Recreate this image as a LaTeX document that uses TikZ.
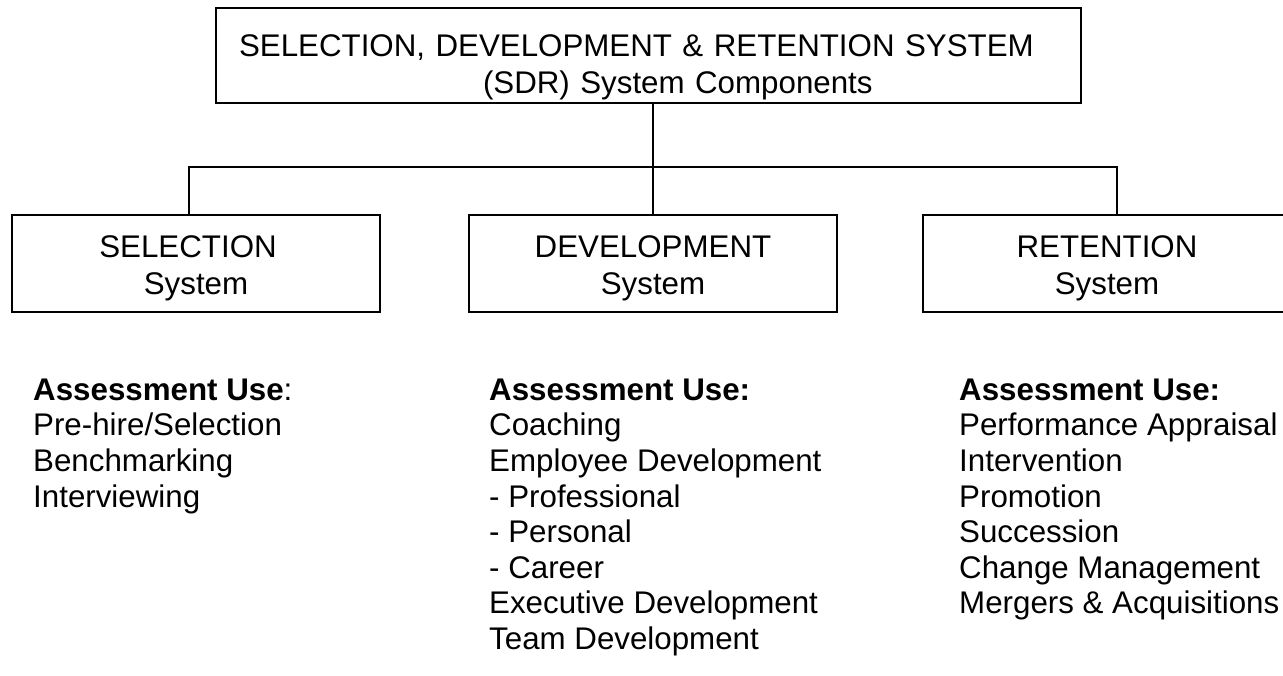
\documentclass[tikz,border=0pt]{standalone}
\usepackage{fontspec}
\setmainfont{Liberation Sans}
\usetikzlibrary{calc}
% strut that lowers the two-line box labels a little inside their boxes
\newcommand{\labelstrut}{\rule{0pt}{32pt}}

\begin{document}
\begin{tikzpicture}[x=1pt, y=-1pt,
    boxtext/.style={font=\fontsize{31.3}{37}\selectfont},
    listtext/.style={font=\fontsize{31.3}{35.6}\selectfont, align=left, inner sep=0pt, anchor=north west},
    sysbox/.style={draw, line width=1.6pt, rectangle, minimum width=368pt, minimum height=97pt,
                   align=center, inner sep=0pt, boxtext},
    link/.style={line width=1.6pt}]
  \clip (0,0) rectangle (1283,675);
  \fill[white] (0,0) rectangle (1283,675);

  % top box
  \node[draw, line width=1.6pt, minimum width=865pt, minimum height=95pt,
        text width=819pt, inner xsep=23pt, inner ysep=0pt, align=left, boxtext]
        (sdr) at (648.5,55.5)
        {\rule{0pt}{46pt}SELECTION, DEVELOPMENT \& RETENTION SYSTEM\\
         \hspace*{244pt}(SDR) System Components};

  % the three system boxes
  \node[sysbox] (sel) at (196,263.5) {\labelstrut SELECTION\hspace*{16pt}\\System};
  \node[sysbox] (dev) at (653,263.5) {\labelstrut DEVELOPMENT\\System};
  \node[sysbox] (ret) at (1107,263.5) {\labelstrut RETENTION\\System};

  % connectors
  \coordinate (bus) at (653,167);
  \draw[link] (sdr.south -| dev.north) -- (dev.north);
  \draw[link] ([xshift=-7pt]sel.north) |- (bus) -| ([xshift=10pt]ret.north);

  % assessment uses
  \node[listtext] (selUse) at (33,378.6)
    {\textbf{Assessment Use}:\\Pre-hire/Selection\\Benchmarking\\Interviewing};
  \node[listtext] (devUse) at (489,378.6)
    {\textbf{Assessment Use:}\\Coaching\\Employee Development\\- Professional\\- Personal\\- Career\\Executive Development\\Team Development};
  \node[listtext] (retUse) at (959,378.6)
    {\textbf{Assessment Use:}\\Performance Appraisal\\Intervention\\Promotion\\Succession\\Change Management\\Mergers \& Acquisitions};
\end{tikzpicture}
\end{document}
